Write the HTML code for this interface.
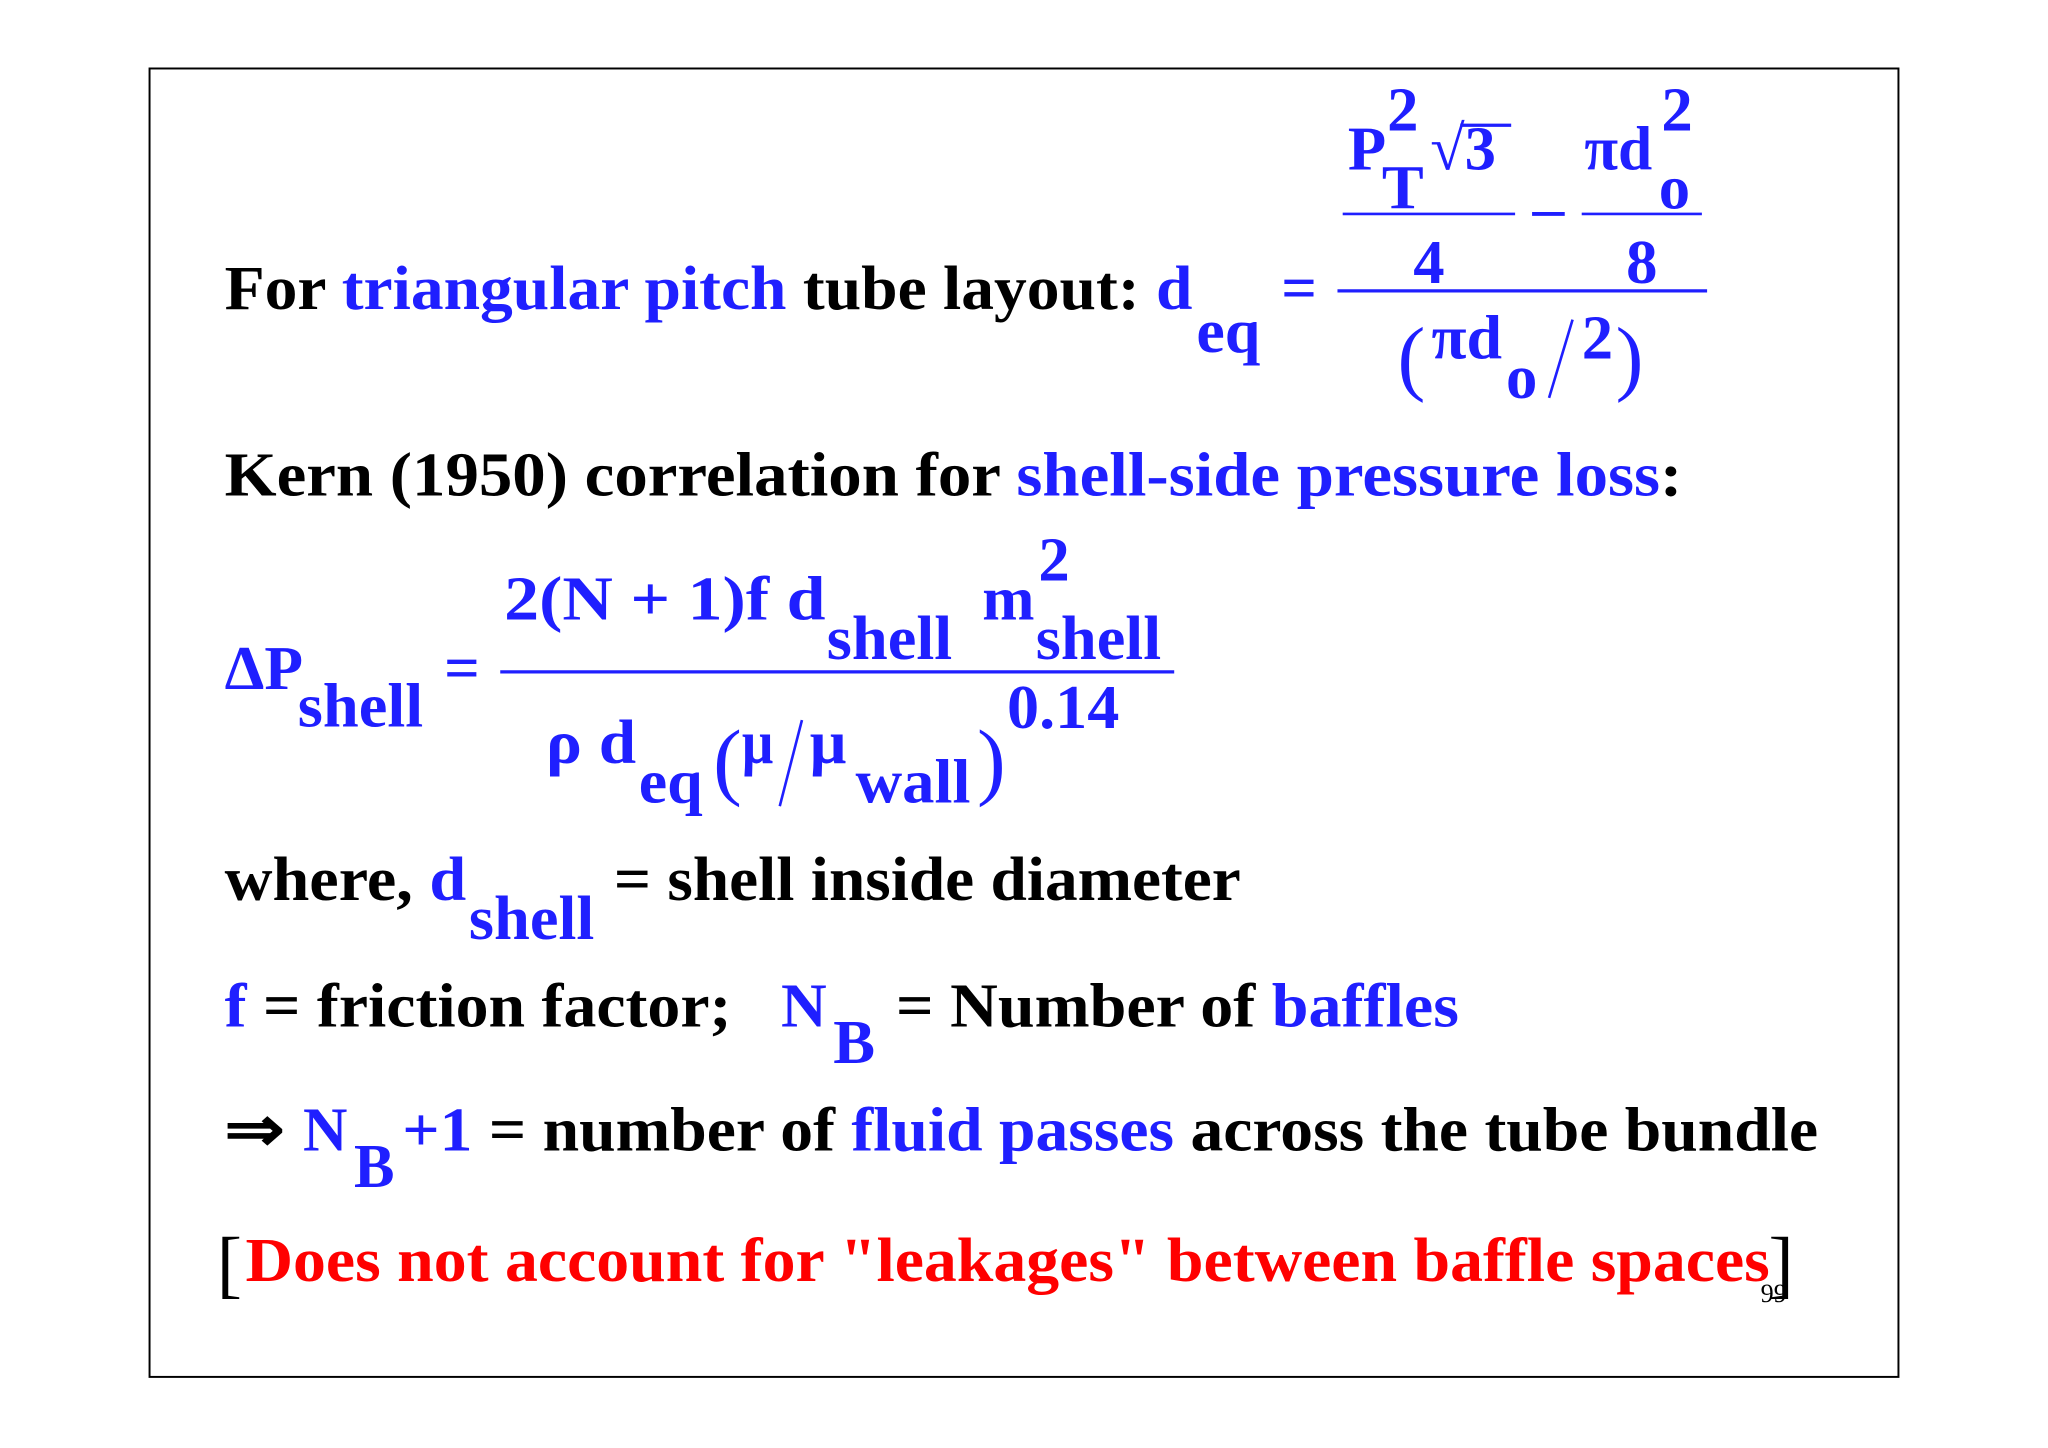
<!DOCTYPE html>
<html><head><meta charset="utf-8"><style>
html,body{margin:0;padding:0;background:#fff;}
svg{display:block;}
text{font-family:"Liberation Serif",serif;font-weight:bold;font-size:48px;}
.b{fill:#1f1fff;} .k{fill:#000;} .r{fill:#ff0000;}
</style></head><body>
<svg width="2048" height="1448" viewBox="0 0 1568 1110" preserveAspectRatio="none" xmlns="http://www.w3.org/2000/svg">
<rect x="114.5" y="52.5" width="1339" height="1003" fill="none" stroke="#000" stroke-width="1.5"/>

<!-- line 1 -->
<text x="172" y="237" textLength="741" lengthAdjust="spacingAndGlyphs"><tspan class="k">For </tspan><tspan class="b">triangular pitch</tspan><tspan class="k"> tube layout: </tspan><tspan class="b">d</tspan></text>
<text class="b" x="916" y="270" textLength="49" lengthAdjust="spacingAndGlyphs">eq</text>
<text class="b" x="981" y="237">=</text>
<text class="b" x="1032" y="130">P</text>
<text class="b" x="1062" y="100">2</text>
<text class="b" x="1058" y="160">T</text>
<text class="b" x="1095" y="130">√3</text>
<line x1="1118" y1="96" x2="1157" y2="96" stroke="#1f1fff" stroke-width="2.5"/>
<text class="b" x="1213" y="130" textLength="52" lengthAdjust="spacingAndGlyphs">πd</text>
<text class="b" x="1272" y="100">2</text>
<text class="b" x="1270" y="160">o</text>
<line x1="1028" y1="164" x2="1160" y2="164" stroke="#1f1fff" stroke-width="2"/>
<line x1="1173" y1="164" x2="1198" y2="164" stroke="#1f1fff" stroke-width="3"/>
<line x1="1211" y1="164" x2="1303" y2="164" stroke="#1f1fff" stroke-width="2"/>
<text class="b" x="1082" y="217">4</text>
<text class="b" x="1245" y="217">8</text>
<line x1="1024" y1="223" x2="1307" y2="223" stroke="#1f1fff" stroke-width="2.5"/>
<text class="b" x="1070" y="295" style="font-size:64px;font-weight:normal">(</text>
<text class="b" x="1096" y="275" textLength="54" lengthAdjust="spacingAndGlyphs">πd</text>
<text class="b" x="1153" y="305">o</text>
<line x1="1204" y1="245" x2="1186" y2="305" stroke="#1f1fff" stroke-width="2"/>
<text class="b" x="1211" y="275">2</text>
<text class="b" x="1237" y="295" style="font-size:64px;font-weight:normal">)</text>

<!-- line 2 -->
<text x="172" y="380" textLength="1116" lengthAdjust="spacingAndGlyphs"><tspan class="k">Kern (1950) correlation for </tspan><tspan class="b">shell-side pressure loss</tspan><tspan class="k">:</tspan></text>

<!-- formula -->
<text class="b" x="172" y="528" textLength="60" lengthAdjust="spacingAndGlyphs">ΔP</text>
<text class="b" x="228" y="557" textLength="96" lengthAdjust="spacingAndGlyphs">shell</text>
<text class="b" x="340" y="528">=</text>
<text class="b" x="386" y="475" textLength="246" lengthAdjust="spacingAndGlyphs">2(N + 1)f  d</text>
<text class="b" x="633" y="505" textLength="96" lengthAdjust="spacingAndGlyphs">shell</text>
<text class="b" x="752" y="475" textLength="40" lengthAdjust="spacingAndGlyphs">m</text>
<text class="b" x="795" y="445">2</text>
<text class="b" x="793" y="505" textLength="96" lengthAdjust="spacingAndGlyphs">shell</text>
<line x1="383" y1="515" x2="899" y2="515" stroke="#1f1fff" stroke-width="2.5"/>
<text class="b" x="418" y="585" textLength="69" lengthAdjust="spacingAndGlyphs">ρ d</text>
<text class="b" x="489" y="615" textLength="49" lengthAdjust="spacingAndGlyphs">eq</text>
<text class="b" x="546" y="605" style="font-size:66px;font-weight:normal">(</text>
<text class="b" x="568" y="585" textLength="24" lengthAdjust="spacingAndGlyphs">μ</text>
<line x1="614" y1="552" x2="597" y2="618" stroke="#1f1fff" stroke-width="2"/>
<text class="b" x="620" y="585" textLength="28" lengthAdjust="spacingAndGlyphs">μ</text>
<text class="b" x="655" y="615" textLength="88" lengthAdjust="spacingAndGlyphs">wall</text>
<text class="b" x="748" y="605" style="font-size:66px;font-weight:normal">)</text>
<text class="b" x="771" y="558" textLength="86" lengthAdjust="spacingAndGlyphs">0.14</text>

<!-- where -->
<text x="172" y="690" textLength="185" lengthAdjust="spacingAndGlyphs"><tspan class="k">where, </tspan><tspan class="b">d</tspan></text>
<text class="b" x="359" y="720" textLength="96" lengthAdjust="spacingAndGlyphs">shell</text>
<text class="k" x="470" y="690" textLength="480" lengthAdjust="spacingAndGlyphs">= shell inside diameter</text>

<!-- f -->
<text x="172" y="787" textLength="388" lengthAdjust="spacingAndGlyphs"><tspan class="b">f</tspan><tspan class="k"> = friction factor;</tspan></text>
<text class="b" x="598" y="787" textLength="35" lengthAdjust="spacingAndGlyphs">N</text>
<text class="b" x="638" y="815" textLength="32" lengthAdjust="spacingAndGlyphs">B</text>
<text x="686" y="787" textLength="431" lengthAdjust="spacingAndGlyphs"><tspan class="k">= Number of </tspan><tspan class="b">baffles</tspan></text>

<!-- implies -->
<text class="k" x="172" y="882" textLength="46" lengthAdjust="spacingAndGlyphs">⇒</text>
<text class="b" x="232" y="882" textLength="34" lengthAdjust="spacingAndGlyphs">N</text>
<text class="b" x="271" y="910" textLength="31" lengthAdjust="spacingAndGlyphs">B</text>
<text x="308" y="882" textLength="1084" lengthAdjust="spacingAndGlyphs"><tspan class="b">+1</tspan><tspan class="k"> = number of </tspan><tspan class="b">fluid passes</tspan><tspan class="k"> across the tube bundle</tspan></text>

<!-- red note -->
<text class="k" x="166" y="988" style="font-size:58px;font-weight:normal">[</text>
<text class="r" x="188" y="982" textLength="1167" lengthAdjust="spacingAndGlyphs">Does not account for "leakages" between baffle spaces</text>
<text class="k" x="1354" y="988" style="font-size:58px;font-weight:normal">]</text>
<text class="k" x="1348" y="998" style="font-size:20px;font-weight:normal">99</text>
</svg>
</body></html>
